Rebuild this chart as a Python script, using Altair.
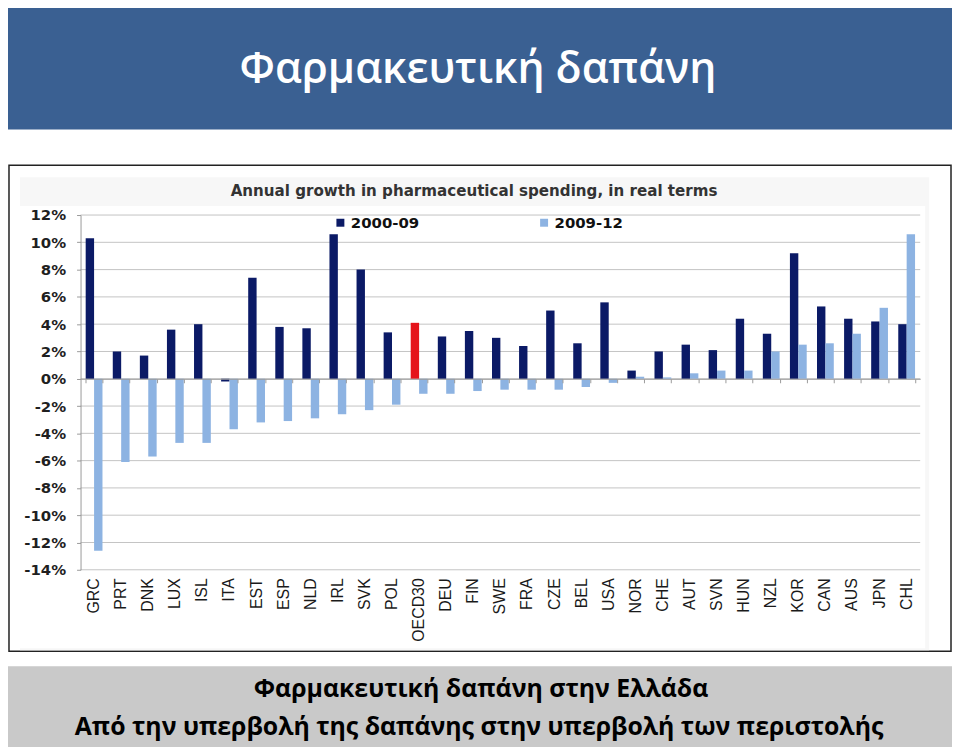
import altair as alt
import pandas as pd

countries = ["GRC", "PRT", "DNK", "LUX", "ISL", "ITA", "EST", "ESP", "NLD", "IRL",
             "SVK", "POL", "OECD30", "DEU", "FIN", "SWE", "FRA", "CZE", "BEL", "USA",
             "NOR", "CHE", "AUT", "SVN", "HUN", "NZL", "KOR", "CAN", "AUS", "JPN", "CHL"]
growth_2000_09 = [10.3, 2.0, 1.7, 3.6, 4.0, -0.2, 7.4, 3.8, 3.7, 10.6,
                  8.0, 3.4, 4.1, 3.1, 3.5, 3.0, 2.4, 5.0, 2.6, 5.6,
                  0.6, 2.0, 2.5, 2.1, 4.4, 3.3, 9.2, 5.3, 4.4, 4.2, 4.0]
growth_2009_12 = [-12.6, -6.1, -5.7, -4.7, -4.7, -3.7, -3.2, -3.1, -2.9, -2.6,
                  -2.3, -1.9, -1.1, -1.1, -0.9, -0.8, -0.8, -0.8, -0.6, -0.3,
                  0.15, 0.1, 0.4, 0.6, 0.6, 2.0, 2.5, 2.6, 3.3, 5.2, 10.6]
series = ["2000-09", "2009-12"]
highlight = "OECD30"
y_ticks = list(range(-14, 13, 2))

title_text = "Φαρμακευτική δαπάνη"
chart_title = "Annual growth in pharmaceutical spending, in real terms"
footer_1 = "Φαρμακευτική δαπάνη στην Ελλάδα"
footer_2 = "Από την υπερβολή της δαπάνης στην υπερβολή των περιστολής"

NAVY = "#0b1a66"
LIGHT = "#8db3e2"
RED = "#e5141b"

rows = []
for c, a, b in zip(countries, growth_2000_09, growth_2009_12):
    rows.append({"country": c, "series": series[0], "value": a,
                 "key": "OECD30" if c == highlight else series[0]})
    rows.append({"country": c, "series": series[1], "value": b, "key": series[1]})
df = pd.DataFrame(rows)
grid_df = pd.DataFrame({"value": y_ticks})
one = pd.DataFrame({"a": [0]})

W, H = 845, 357

def rect(fill, x, x2, y, y2, **kw):
    return alt.Chart(one).mark_rect(fill=fill, **kw).encode(
        x=alt.value(x), x2=alt.value(x2), y=alt.value(y), y2=alt.value(y2))

def label(text, x, y, **kw):
    return alt.Chart(one).mark_text(align="center", baseline="middle", **kw).encode(
        x=alt.value(x), y=alt.value(y), text=alt.value(text))

banner = rect("#3a6092", -90, 877, -220, -86)
banner_text = label(title_text, 400, -146, font="Open Sans", fontSize=43,
                    fontWeight=600, color="white")
box = rect("white", -72, 876, -50, 439, stroke="#222222", strokeWidth=1.5)
grey = rect("#f7f7f7", -61, 854, -38, 438)
white = rect("white", -61, 850, -9, 436)
footer = rect("#c9c9c9", -90, 877, 454, 540)
foot1 = label(footer_1, 403, 477, font="Open Sans", fontSize=25,
              fontWeight="bold", color="black")
foot2 = label(footer_2, 401, 515, font="Open Sans", fontSize=25,
              fontWeight="bold", color="black")
sub = label(chart_title, 396, -24, font="DejaVu Sans", fontSize=15.2,
            fontWeight="bold", color="#333333")

y_scale = alt.Scale(domain=[-14, 12], nice=False, zero=False)
x_scale = alt.Scale(paddingInner=0.38, paddingOuter=0.19)
y_axis = alt.Axis(title=None, values=y_ticks, grid=False,
                  labelExpr="datum.value + '%'",
                  labelFont="DejaVu Sans", labelFontSize=15,
                  labelFontWeight="bold", labelColor="#1f1f1f",
                  labelPadding=11, tickSize=4, tickColor="#9a9a9a",
                  domainColor="#9a9a9a", zindex=1)

grid = alt.Chart(grid_df).mark_rule(color="#c4c4c4", strokeWidth=1).encode(
    y=alt.Y("value:Q", scale=y_scale, axis=y_axis))

bars = alt.Chart(df).mark_bar().encode(
    x=alt.X("country:N", sort=countries, scale=x_scale,
            axis=alt.Axis(title=None, orient="bottom", labelAngle=270,
                          labelAlign="right", labelBaseline="middle",
                          labelFont="Liberation Sans", labelFontSize=16,
                          labelColor="#1a1a1a", labelPadding=8,
                          domain=False, ticks=False, zindex=1)),
    xOffset=alt.XOffset("series:N", sort=series,
                        scale=alt.Scale(paddingInner=0, paddingOuter=0)),
    y=alt.Y("value:Q", scale=y_scale, axis=y_axis),
    color=alt.Color("key:N",
                    scale=alt.Scale(domain=series + [highlight],
                                    range=[NAVY, LIGHT, RED]),
                    legend=alt.Legend(title=None, orient="none",
                                      legendX=254, legendY=0,
                                      direction="horizontal",
                                      values=series, symbolType="square",
                                      symbolSize=64, symbolStrokeWidth=0,
                                      labelFont="DejaVu Sans",
                                      labelFontSize=15,
                                      labelFontWeight="bold",
                                      labelColor="#111111",
                                      labelOffset=3, columnPadding=118,
                                      padding=0)),
)

zero_axis = alt.Chart(df).mark_tick(opacity=0).encode(
    x=alt.X("country:N", sort=countries, scale=x_scale,
            axis=alt.Axis(title=None, orient="bottom", offset=-192.2,
                          labels=False, domain=True, ticks=True,
                          tickBand="extent", tickSize=4,
                          domainColor="#9a9a9a", tickColor="#9a9a9a",
                          zindex=1)),
)

chart = alt.layer(
    banner, banner_text, box, grey, white, footer, foot1, foot2, sub,
    grid, bars, zero_axis
).resolve_axis(x="independent").properties(
    width=W, height=H,
    autosize=alt.AutoSizeParams(type="none"),
    padding={"left": 73, "top": 206, "right": 32, "bottom": 176},
    background="white",
).configure_view(stroke=None)

chart.save("out.html", embed_options={"renderer": "svg", "actions": False})
